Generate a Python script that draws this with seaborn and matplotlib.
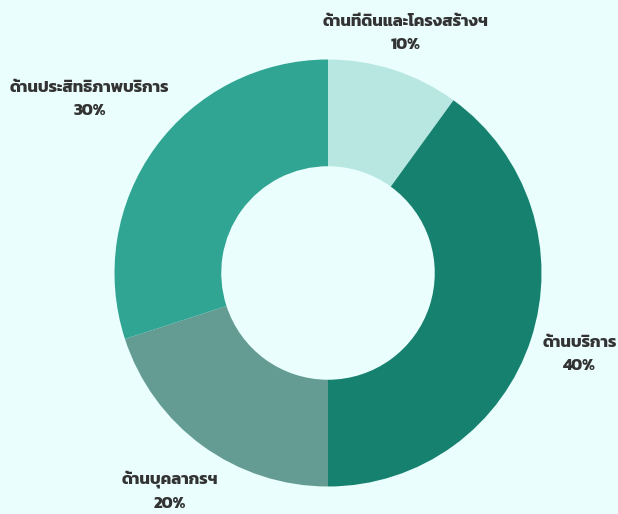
import os
import numpy as np
import matplotlib
matplotlib.use("Agg")
import matplotlib.pyplot as plt
from matplotlib import font_manager as fm
import seaborn as sns

categories = ["ด้านที่ดินและโครงสร้างฯ", "ด้านบริการ", "ด้านบุคลากรฯ", "ด้านประสิทธิภาพบริการ"]
values = [10, 40, 20, 30]
pct_labels = ["10%", "40%", "20%", "30%"]
colors = ["#b8e7e2", "#178170", "#649b93", "#31a594"]
label_radius = [1.18, 1.24, 1.26, 1.38]

sns.set_theme(style="white")
bg = "#eafffd"

fam = ["DejaVu Sans"]
gdir = "/usr/share/fonts/truetype/google-fonts"
for name in ["Kanit-Bold.ttf", "Kanit-SemiBold.ttf", "Kanit-Medium.ttf", "Kanit-Regular.ttf"]:
    p = os.path.join(gdir, name)
    if os.path.exists(p):
        fm.fontManager.addfont(p)
        fam = [fm.FontProperties(fname=p).get_name(), "DejaVu Sans"]
        break
plt.rcParams["font.family"] = fam

W, H = 618, 514
fig = plt.figure(figsize=(W / 100, H / 100), dpi=100, facecolor=bg)
ax = fig.add_axes([0, 0, 1, 1])
ax.set_facecolor(bg)

cx, cy, R = 328, 273, 213.5
wedges, _ = ax.pie(values, colors=colors, startangle=90, counterclock=False,
                   radius=1.0, wedgeprops=dict(width=0.5, edgecolor="none", linewidth=0))
ax.set_xlim(-cx / R, (W - cx) / R)
ax.set_ylim(-(H - cy) / R, cy / R)
ax.set_aspect("equal")
ax.axis("off")

for w, cat, pl, lr in zip(wedges, categories, pct_labels, label_radius):
    ang = np.deg2rad((w.theta1 + w.theta2) / 2)
    x, y = lr * np.cos(ang), lr * np.sin(ang)
    ax.text(x, y, cat + "\n" + pl, ha="center", va="center", fontsize=12,
            fontweight="bold", color="#333333", linespacing=1.85)

fig.savefig("out.png", dpi=100, facecolor=bg)
